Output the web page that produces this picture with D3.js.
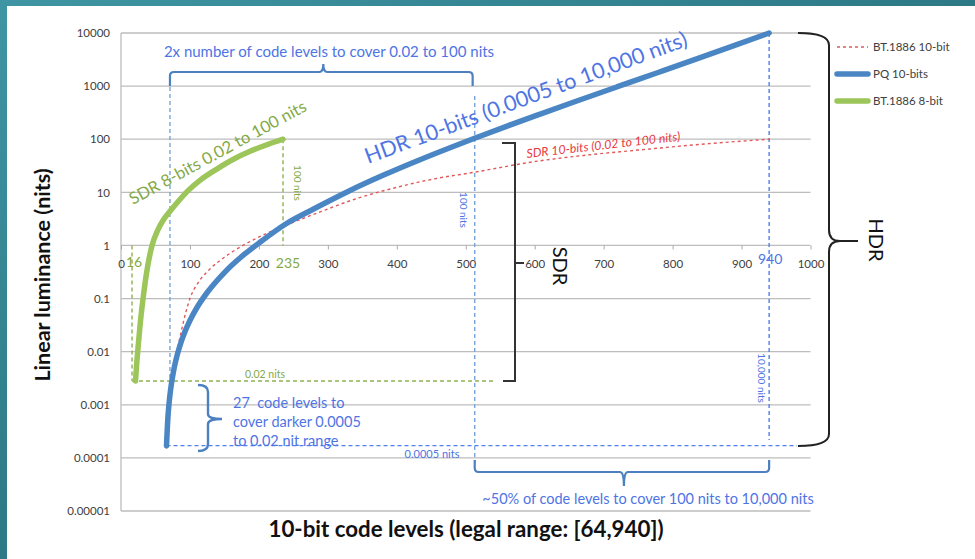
<!DOCTYPE html>
<html>
<head>
<meta charset="utf-8">
<script src="https://cdn.jsdelivr.net/npm/d3@7"></script>
<style>
  body { margin: 0; background: #fff; }
  svg { display: block; }
  text { font-family: Lato, "Open Sans", sans-serif; }
</style>
</head>
<body>
<svg id="chart" width="975" height="559"></svg>
<script>
// ---- data ----------------------------------------------------------------
const xTicks = [0, 100, 200, 300, 400, 500, 600, 700, 800, 900, 1000];
const yTicks = [0.00001, 0.0001, 0.001, 0.01, 0.1, 1, 10, 100, 1000, 10000];
const yTickLabels = ["0.00001", "0.0001", "0.001", "0.01", "0.1", "1", "10", "100", "1000", "10000"];

// PQ 10-bit (code level -> nits)
const pqCodes = [66, 68, 70, 72, 76, 80, 90, 100, 110, 125, 150, 180, 200, 240, 280, 330, 380, 430, 480, 510, 560, 610, 660, 720, 780, 840, 890, 940];
const pqNits  = [0.00017, 0.00057, 0.00116, 0.00196, 0.00416, 0.00725, 0.0193, 0.0387, 0.0671, 0.130, 0.309, 0.698, 1.108, 2.59, 4.91, 10.5, 20.9, 39.4, 71.5, 101, 177, 304, 518, 974, 1824, 3427, 5830, 10000];

// BT.1886 10-bit (code level -> nits)
const bt10Codes = [66, 70, 74, 78, 81, 88, 94, 100, 112, 129, 150, 177, 216, 241, 289, 340, 405, 455, 511, 600, 680, 753, 840, 940];
const bt10Nits  = [0.00015, 0.0009, 0.0026, 0.0055, 0.0095, 0.026, 0.055, 0.1, 0.2, 0.36, 0.6, 1.0, 1.8, 2.45, 4.3, 7.5, 12.9, 18, 23.7, 38, 51, 63, 80, 100];

// BT.1886 8-bit (8-bit code level -> nits)
const bt8Codes = [21, 23, 25, 28, 32, 37, 45, 53, 62, 71, 81, 98, 115, 140, 163, 188, 212, 235];
const bt8Nits  = [0.0028, 0.0065, 0.013, 0.035, 0.1, 0.3, 1.0, 1.9, 3.1, 4.4, 6.3, 11, 17, 28, 42, 60, 79, 100];

const legendLabels = ["BT.1886 10-bit", "PQ 10-bits", "BT.1886 8-bit"];

// code levels marked by the annotations
const sdrBlackCode8 = 16, sdrWhiteCode8 = 235;
const pqLowCode = 71, pq100Code = 513, pqPeakCode = 940;

// ---- setup ---------------------------------------------------------------
const W = 975, H = 559;
const svg = d3.select("#chart");

const x = d3.scaleLinear().domain([0, 1000]).range([121, 810.5]);
const y = d3.scaleLog().domain([0.00001, 10000]).range([511, 33]);

const textBlue = "#4e74e4", braceBlue = "#4c80c0", dashBlue = "#78a4dc", dashBlue2 = "#4f80ee";
const dashGreen = "#8fb150", textGreen = "#84a944";
const red = "#e05a5c", blue = "#4a86c4", green = "#9cc55a";

// slide frame
const defs = svg.append("defs");
const grad = defs.append("linearGradient").attr("id", "slideBg")
  .attr("x1", "0").attr("y1", "0").attr("x2", "1").attr("y2", "1");
grad.append("stop").attr("offset", "0").attr("stop-color", "#3f95a3");
grad.append("stop").attr("offset", "0.55").attr("stop-color", "#2b7683");
grad.append("stop").attr("offset", "1").attr("stop-color", "#1c5460");
svg.append("rect").attr("width", W).attr("height", H).attr("fill", "url(#slideBg)");
svg.append("rect").attr("x", 7).attr("y", 6).attr("width", W - 7).attr("height", H - 6).attr("fill", "#fff");

// gridlines
svg.append("g").selectAll("line").data(yTicks).join("line")
  .attr("x1", x(0)).attr("x2", x(1000))
  .attr("y1", d => y(d)).attr("y2", d => y(d))
  .attr("stroke", "#bdbdbd").attr("stroke-width", 1.3);
svg.append("line")
  .attr("x1", x(0)).attr("x2", x(0)).attr("y1", y(10000)).attr("y2", y(0.00001))
  .attr("stroke", "#bdbdbd").attr("stroke-width", 1.3);

// axes
const xAxis = svg.append("g").attr("transform", `translate(0,${y(1)})`)
  .call(d3.axisBottom(x).tickValues(xTicks).tickSize(4).tickPadding(10).tickFormat(d3.format("d")));
xAxis.select(".domain").remove();
xAxis.selectAll(".tick line").attr("stroke", "#a8a8a8");
xAxis.selectAll(".tick text").attr("fill", "#404040").style("font-size", "11.5px").style("font-family", "Lato, sans-serif");

const yAxis = svg.append("g").attr("transform", `translate(${x(0)},0)`)
  .call(d3.axisLeft(y).tickValues(yTicks).tickSize(0).tickPadding(11)
    .tickFormat((d, i) => yTickLabels[i]));
yAxis.select(".domain").remove();
yAxis.selectAll(".tick text").attr("fill", "#404040").style("font-size", "11.5px").style("font-family", "Lato, sans-serif");

// axis titles
svg.append("text")
  .attr("transform", `translate(50,275) rotate(-90)`)
  .attr("text-anchor", "middle").attr("fill", "#111")
  .style("font-size", "21.5px").style("font-weight", "bold")
  .text("Linear luminance (nits)");
svg.append("text")
  .attr("x", 466).attr("y", 537).attr("text-anchor", "middle").attr("fill", "#111")
  .style("font-size", "22.3px").style("font-weight", "bold")
  .text("10-bit code levels (legal range: [64,940])");

// ---- annotations behind curves ------------------------------------------
const dash = (sel, color, w) => sel.attr("stroke", color).attr("stroke-width", w || 1.4)
  .attr("stroke-dasharray", "4,3").attr("fill", "none");

const sdrFloorY = y(bt8Nits[0]);
const pqFloorY = y(pqNits[0]);

// SDR black / white code verticals
svg.append("line").attr("x1", x(sdrBlackCode8)).attr("x2", x(sdrBlackCode8))
  .attr("y1", y(1)).attr("y2", sdrFloorY).call(dash, dashGreen);
svg.append("line").attr("x1", x(sdrWhiteCode8)).attr("x2", x(sdrWhiteCode8))
  .attr("y1", y(100)).attr("y2", y(1)).call(dash, dashGreen);
// 0.02 nits floor
svg.append("line").attr("x1", x(sdrBlackCode8)).attr("x2", 493)
  .attr("y1", sdrFloorY).attr("y2", sdrFloorY).call(dash, dashGreen);
// 0.0005 nits floor
svg.append("line").attr("x1", x(pqCodes[0])).attr("x2", 797)
  .attr("y1", pqFloorY).attr("y2", pqFloorY).call(dash, dashBlue2);

// code-level verticals
svg.append("line").attr("x1", x(pqLowCode)).attr("x2", x(pqLowCode))
  .attr("y1", 87).attr("y2", sdrFloorY + 2).call(dash, dashBlue);
svg.append("line").attr("x1", x(pq100Code)).attr("x2", x(pq100Code))
  .attr("y1", 96).attr("y2", 462).call(dash, dashBlue);
svg.append("line").attr("x1", x(pqPeakCode)).attr("x2", x(pqPeakCode))
  .attr("y1", y(10000)).attr("y2", 440).call(dash, dashBlue2);

// ---- series --------------------------------------------------------------
const line = d3.line().x(d => x(d[0])).y(d => y(d[1])).curve(d3.curveMonotoneX);

svg.append("path").datum(d3.zip(bt10Codes, bt10Nits)).attr("d", line)
  .attr("fill", "none").attr("stroke", red).attr("stroke-width", 1.4).attr("stroke-dasharray", "3,3");
svg.append("path").datum(d3.zip(pqCodes, pqNits)).attr("d", line)
  .attr("fill", "none").attr("stroke", blue).attr("stroke-width", 5.5).attr("stroke-linecap", "round");
svg.append("path").datum(d3.zip(bt8Codes, bt8Nits)).attr("d", line)
  .attr("fill", "none").attr("stroke", green).attr("stroke-width", 5.5).attr("stroke-linecap", "round");

// ---- braces --------------------------------------------------------------
// top: 2x code levels
{
  const x0 = x(pqLowCode), x1 = x(pq100Code - 3), xm = (x0 + x1) / 2 + 2, yb = 72;
  svg.append("path")
    .attr("d", `M${x0},86 L${x0},${yb + 4} Q${x0},${yb} ${x0 + 4},${yb} L${xm - 4},${yb} Q${xm},${yb} ${xm},${yb - 8} Q${xm},${yb} ${xm + 4},${yb} L${x1 - 4},${yb} Q${x1},${yb} ${x1},${yb + 4} L${x1},86`)
    .attr("fill", "none").attr("stroke", braceBlue).attr("stroke-width", 2.2);
}
// bottom: ~50% of code levels
{
  const x0 = x(pq100Code), x1 = x(pqPeakCode), xm = (x0 + x1) / 2 + 2, yb = 472;
  svg.append("path")
    .attr("d", `M${x0},460 L${x0},${yb - 4} Q${x0},${yb} ${x0 + 4},${yb} L${xm - 4},${yb} Q${xm},${yb} ${xm},${yb + 14} Q${xm},${yb} ${xm + 4},${yb} L${x1 - 4},${yb} Q${x1},${yb} ${x1},${yb - 4} L${x1},460`)
    .attr("fill", "none").attr("stroke", braceBlue).attr("stroke-width", 2.2);
}
// left: 27 code levels
svg.append("path")
  .attr("d", "M198,385 Q208,385 208,392 L208,414 Q208,419 222,419 M208,424 Q208,419 222,419 M208,424 L208,444 Q208,451 198,451")
  .attr("fill", "none").attr("stroke", braceBlue).attr("stroke-width", 2.4);
// SDR bracket
svg.append("path")
  .attr("d", "M502,143 L515,143 L515,381 L503,381 M515,263 L524,263")
  .attr("fill", "none").attr("stroke", "#333").attr("stroke-width", 2);
// HDR brace
svg.append("path")
  .attr("d", "M798,33 Q829,33 829,45 L829,230 Q829,241 840,241 L858,241 M840,241 Q829,241 829,252 L829,434 Q829,446 798,446")
  .attr("fill", "none").attr("stroke", "#222").attr("stroke-width", 2);

// ---- labels --------------------------------------------------------------
const label = (tx, ty, str, opts) => {
  const o = Object.assign({ size: 13, color: textBlue, anchor: "middle", rotate: 0, italic: false }, opts || {});
  return svg.append("text")
    .attr("transform", `translate(${tx},${ty}) rotate(${o.rotate})`)
    .attr("text-anchor", o.anchor).attr("fill", o.color)
    .style("font-size", o.size + "px").style("font-style", o.italic ? "italic" : "normal")
    .style("white-space", "pre")
    .text(str);
};

label(329, 57, "2x number of code levels to cover 0.02 to 100 nits", { size: 15 });
label(648, 504, "~50% of code levels to cover 100 nits to 10,000 nits", { size: 14.5 });
label(233, 408, "27  code levels to", { size: 14.5, anchor: "start" });
label(233, 427, "cover darker 0.0005", { size: 14.5, anchor: "start" });
label(233, 446, "to 0.02 nit range", { size: 14.5, anchor: "start" });

label(265, 378, "0.02 nits", { size: 10.5, color: textGreen });
label(432, 458, "0.0005 nits", { size: 11, color: textBlue });

label(x(pq100Code) - 14.5, 210, "100 nits", { size: 10, rotate: 90, color: textBlue });
label(x(sdrWhiteCode8) + 11, 183, "100 nits", { size: 10, rotate: 90, color: textGreen });
label(x(pqPeakCode) - 11.5, 378, "10,000 nits", { size: 10, rotate: 90, color: textBlue });

label(x(pqPeakCode) + 1, 264, "940", { size: 14, color: textBlue });
label(x(sdrBlackCode8) + 2, 267, "16", { size: 14, color: textGreen });
label(x(sdrWhiteCode8) + 5, 268, "235", { size: 14, color: textGreen });

label(553, 266, "SDR", { size: 20, rotate: 90, color: "#111" });
label(869, 240, "HDR", { size: 20, rotate: 90, color: "#111" });

// curve captions
label(133, 205, "SDR 8-bits 0.02 to 100 nits", { size: 16.6, color: textGreen, anchor: "start", rotate: -28.5 });
label(368, 164, "HDR 10-bits (0.0005 to 10,000 nits)", { size: 21.6, color: textBlue, anchor: "start", rotate: -20.3 });
label(527, 158, "SDR 10-bits (0.02 to 100 nits)", { size: 12.3, color: "#e8383e", anchor: "start", rotate: -6.5, italic: true });

// ---- legend --------------------------------------------------------------
const legendStyles = [
  { color: red, width: 1.4, dash: "3,3", cap: "butt" },
  { color: blue, width: 5.5, dash: null, cap: "round" },
  { color: green, width: 5.5, dash: null, cap: "round" }
];
const legend = svg.append("g");
legendLabels.forEach((name, i) => {
  const ly = 47 + i * 27;
  const s = legendStyles[i];
  legend.append("line").attr("x1", 837).attr("x2", 868).attr("y1", ly).attr("y2", ly)
    .attr("stroke", s.color).attr("stroke-width", s.width)
    .attr("stroke-linecap", s.cap).attr("stroke-dasharray", s.dash);
  legend.append("text").attr("x", 873).attr("y", ly).attr("dy", "0.35em")
    .attr("fill", "#404040").style("font-size", "11.5px").text(name);
});
</script>
</body>
</html>
